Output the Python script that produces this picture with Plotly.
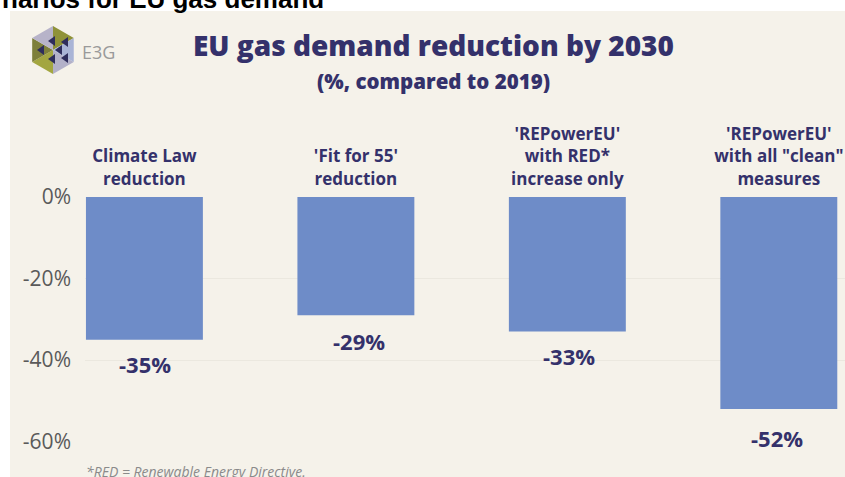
import math
import plotly.graph_objects as go

categories = ["Climate Law<br>reduction", "'Fit for 55'<br>reduction",
              "'REPowerEU'<br>with RED*<br>increase only",
              "'REPowerEU'<br>with all \"clean\"<br>measures"]
positions = [0, 1, 2, 3]
reductions = [-35, -29, -33, -52]
tick_values = [0, -20, -40, -60]
tick_labels = ["0%", "-20%", "-40%", "-60%"]

W, H = 845, 477
NAVY = "#34316b"
PANEL = "#f5f2ea"

# Hand-placed drop and nudge of each value label below its bar, in pixels
label_drops = [-24, -26, -25, -29]
label_nudges = [1, 3, 2, -2]


def px(x):
    return x / W


def py(y):
    return 1 - y / H


def poly(points):
    return "M " + " L ".join(f"{px(x):.4f},{py(y):.4f}" for x, y in points) + " Z"


# Logo: hexagon of coloured wedges with dark triangles at the centre
cx, cy, r = 53, 50, 24
hex_pts = [(cx + r * math.cos(math.radians(a)), cy + r * math.sin(math.radians(a)))
           for a in range(30, 390, 60)]
wedge_colours = ["#b3b1c9", "#a3a640", "#7d7f3a", "#b7b3c9", "#8f9238", "#a9b4d6"]
shapes = [dict(type="rect", xref="paper", yref="paper", layer="below",
               x0=px(10), x1=1, y0=0, y1=py(11), fillcolor=PANEL, line_width=0)]
for i, colour in enumerate(wedge_colours):
    a, b = hex_pts[i], hex_pts[(i + 1) % 6]
    shapes.append(dict(type="path", xref="paper", yref="paper",
                       path=poly([(cx, cy), a, b]), fillcolor=colour, line_width=0))
for dx, dy in [(-12, 0), (-1, -9), (-1, 9), (6, 0), (12, -8), (12, 8)]:
    tri = [(cx + dx - 4, cy + dy), (cx + dx + 3, cy + dy - 5), (cx + dx + 3, cy + dy + 5)]
    shapes.append(dict(type="path", xref="paper", yref="paper",
                       path=poly(tri), fillcolor="#2e2d5c", line_width=0))

fig = go.Figure(go.Bar(x=positions, y=reductions, width=0.553,
                       marker=dict(color="#6e8cc8", line_width=0)))

annotations = [
    dict(xref="paper", yref="paper", x=0, y=py(-18), xanchor="left", yanchor="top",
         text="<b>narios for EU gas demand</b>", showarrow=False,
         font=dict(family="Liberation Sans", size=26, color="#000000")),
    dict(xref="paper", yref="paper", x=px(433), y=py(45), xanchor="center", yanchor="middle",
         text="EU gas demand reduction by 2030", showarrow=False,
         font=dict(family="Open Sans", size=28, color=NAVY, weight=800)),
    dict(xref="paper", yref="paper", x=px(433), y=py(81), xanchor="center", yanchor="middle",
         text="(%, compared to 2019)", showarrow=False,
         font=dict(family="Open Sans", size=20.5, color=NAVY, weight=800)),
    dict(xref="paper", yref="paper", x=px(80), y=py(52), xanchor="left", yanchor="middle",
         text="E3G", showarrow=False,
         font=dict(family="Open Sans", size=18, color="#9a9a9a")),
    dict(xref="paper", yref="paper", x=px(84), y=py(471), xanchor="left", yanchor="middle",
         text="<i>*RED = Renewable Energy Directive.</i>", showarrow=False,
         font=dict(family="Open Sans", size=14, color="#8a8a8a")),
]
for pos, value, drop, nudge in zip(positions, reductions, label_drops, label_nudges):
    annotations.append(dict(x=pos, y=value, xref="x", yref="y", yanchor="middle",
                            text=f"<b>{value}%</b>", showarrow=False,
                            yshift=drop, xshift=nudge,
                            font=dict(family="Open Sans", size=22, color=NAVY)))

fig.update_layout(
    width=W, height=H, margin=dict(l=0, r=0, t=0, b=0),
    paper_bgcolor="#ffffff", plot_bgcolor=PANEL, showlegend=False,
    shapes=shapes, annotations=annotations,
    xaxis=dict(domain=[px(85), 1], range=[-0.281, 3.313], side="top", automargin=False,
               anchor="y", tickmode="array", tickvals=positions, ticktext=categories,
               ticks="", ticklabelstandoff=8, showgrid=False, zeroline=False,
               tickangle=0,
               tickfont=dict(family="Open Sans", size=17, color=NAVY, weight="bold")),
    yaxis=dict(domain=[py(441.5), py(197)], range=[-60, 0], tickmode="array", automargin=False,
               tickvals=tick_values, ticktext=tick_labels, ticks="",
               ticklabelstandoff=13, gridcolor="#ebe8df", zeroline=False,
               tickfont=dict(family="Open Sans", size=21, color="#5a5a5a")),
)
fig.write_html("out.html")
